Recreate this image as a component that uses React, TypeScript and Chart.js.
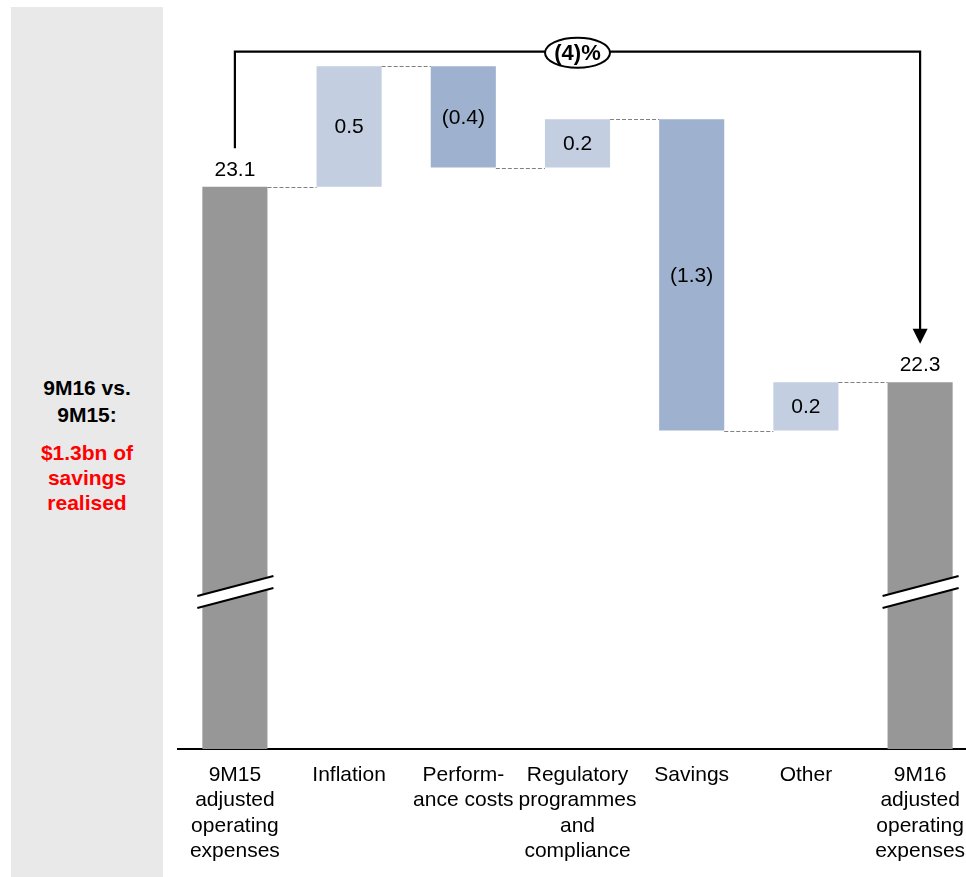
import React, { useEffect, useRef } from 'react';
import { Chart, registerables } from 'chart.js';

Chart.register(...registerables);

// ---- data ----
const CATEGORIES: string[][] = [
  ['9M15', 'adjusted', 'operating', 'expenses'],
  ['Inflation'],
  ['Perform-', 'ance costs'],
  ['Regulatory', 'programmes', 'and', 'compliance'],
  ['Savings'],
  ['Other'],
  ['9M16', 'adjusted', 'operating', 'expenses'],
];
const START_VALUE = 23.1;
const CHANGES = [0.5, -0.42, 0.2, -1.29, 0.2];
const VALUE_LABELS = ['23.1', '0.5', '(0.4)', '0.2', '(1.3)', '0.2', '22.3'];
const BAR_COLORS = ['#979797', '#c3cee1', '#9eb1ce', '#c3cee1', '#9eb1ce', '#c3cee1', '#979797'];
const Y_MIN = 20.77;
const Y_MAX = 23.75;
const BRACKET_LEVEL = 23.66;
const BRACKET_GAP = 0.16;
const BREAK_LEVEL = 21.42;
const CHANGE_PCT_LABEL = '(4)%';
const PANEL_TITLE = ['9M16 vs.', '9M15:'];
const PANEL_NOTE = ['$1.3bn of', 'savings', 'realised'];

const FONT = "'Liberation Sans', Arial, sans-serif";

// build floating ranges and running levels
const ranges: [number, number][] = [[Y_MIN, START_VALUE]];
const levels: number[] = [START_VALUE];
let running = START_VALUE;
CHANGES.forEach((c) => {
  const next = running + c;
  ranges.push([Math.min(running, next), Math.max(running, next)]);
  running = next;
  levels.push(running);
});
const END_VALUE = running;
ranges.push([Y_MIN, END_VALUE]);
levels.push(END_VALUE);

const waterfallPlugin = {
  id: 'waterfallExtras',
  afterDatasetsDraw(chart: any) {
    const ctx: CanvasRenderingContext2D = chart.ctx;
    const y = chart.scales.y;
    const bars = chart.getDatasetMeta(0).data.map((b: any) =>
      b.getProps(['x', 'y', 'base', 'width'], true)
    );
    const last = bars.length - 1;

    // connectors
    ctx.save();
    ctx.strokeStyle = '#808080';
    ctx.lineWidth = 1;
    ctx.setLineDash([4, 2]);
    for (let i = 0; i < last; i++) {
      const py = Math.round(y.getPixelForValue(levels[i])) + 0.5;
      ctx.beginPath();
      ctx.moveTo(bars[i].x + bars[i].width / 2, py);
      ctx.lineTo(bars[i + 1].x - bars[i + 1].width / 2, py);
      ctx.stroke();
    }
    ctx.restore();

    // axis breaks
    [0, last].forEach((i) => {
      const b = bars[i];
      const cy = y.getPixelForValue(BREAK_LEVEL);
      const xa = b.x - b.width / 2 - 5;
      const xb = b.x + b.width / 2 + 6;
      const slope = -20 / 76;
      const yAt = (x: number, off: number) => cy + off + (x - b.x) * slope;
      ctx.save();
      ctx.fillStyle = '#ffffff';
      ctx.beginPath();
      ctx.moveTo(xa, yAt(xa, -6));
      ctx.lineTo(xb, yAt(xb, -6));
      ctx.lineTo(xb, yAt(xb, 6));
      ctx.lineTo(xa, yAt(xa, 6));
      ctx.closePath();
      ctx.fill();
      ctx.strokeStyle = '#000000';
      ctx.lineWidth = 2;
      [-6, 6].forEach((off) => {
        ctx.beginPath();
        ctx.moveTo(xa, yAt(xa, off));
        ctx.lineTo(xb, yAt(xb, off));
        ctx.stroke();
      });
      ctx.restore();
    });

    // value labels
    ctx.save();
    ctx.font = `21px ${FONT}`;
    ctx.fillStyle = '#000000';
    ctx.textAlign = 'center';
    ctx.textBaseline = 'middle';
    bars.forEach((b: any, i: number) => {
      const top = Math.min(b.y, b.base);
      const bottom = Math.max(b.y, b.base);
      if (i === 0 || i === last) {
        ctx.fillText(VALUE_LABELS[i], b.x, top - 17);
      } else {
        ctx.fillText(VALUE_LABELS[i], b.x, (top + bottom) / 2 + 1);
      }
    });
    ctx.restore();

    // bracket with arrow
    const x0 = bars[0].x;
    const x1 = bars[last].x;
    const yb = y.getPixelForValue(BRACKET_LEVEL);
    const yl = y.getPixelForValue(START_VALUE + BRACKET_GAP);
    const yr = y.getPixelForValue(END_VALUE + BRACKET_GAP);
    ctx.save();
    ctx.strokeStyle = '#000000';
    ctx.lineWidth = 2.2;
    ctx.beginPath();
    ctx.moveTo(x0, yl);
    ctx.lineTo(x0, yb);
    ctx.lineTo(x1, yb);
    ctx.lineTo(x1, yr - 14);
    ctx.stroke();
    ctx.fillStyle = '#000000';
    ctx.beginPath();
    ctx.moveTo(x1, yr);
    ctx.lineTo(x1 - 7.5, yr - 15);
    ctx.lineTo(x1 + 7.5, yr - 15);
    ctx.closePath();
    ctx.fill();
    // oval
    const cx = (x0 + x1) / 2;
    ctx.fillStyle = '#ffffff';
    ctx.beginPath();
    ctx.ellipse(cx, yb + 1, 32.5, 15, 0, 0, Math.PI * 2);
    ctx.fill();
    ctx.lineWidth = 2;
    ctx.stroke();
    ctx.fillStyle = '#000000';
    ctx.font = `bold 22px ${FONT}`;
    ctx.textAlign = 'center';
    ctx.textBaseline = 'middle';
    ctx.fillText(CHANGE_PCT_LABEL, cx, yb + 2);
    ctx.restore();
  },
};

function WaterfallChart() {
  const ref = useRef<HTMLCanvasElement | null>(null);
  useEffect(() => {
    if (!ref.current) return;
    const chart = new Chart(ref.current, {
      type: 'bar',
      data: {
        labels: CATEGORIES as any,
        datasets: [
          {
            data: ranges as any,
            backgroundColor: BAR_COLORS,
            borderWidth: 0,
            barPercentage: 0.57,
            categoryPercentage: 1,
          },
        ],
      },
      options: {
        animation: false,
        responsive: true,
        maintainAspectRatio: false,
        layout: { padding: { top: 22, left: 0, right: 0, bottom: 0 } },
        plugins: { legend: { display: false }, tooltip: { enabled: false } },
        scales: {
          x: {
            offset: true,
            grid: { display: false, drawTicks: false },
            border: { display: true, color: '#000000', width: 2 },
            ticks: {
              autoSkip: false,
              maxRotation: 0,
              minRotation: 0,
              padding: 13,
              color: '#000000',
              font: { family: FONT, size: 21, lineHeight: 1.22 },
            },
            afterFit: (scale: any) => {
              scale.height = 120;
            },
          },
          y: {
            display: false,
            min: Y_MIN,
            max: Y_MAX,
          },
        },
      },
      plugins: [waterfallPlugin],
    });
    return () => chart.destroy();
  }, []);
  return <canvas ref={ref} />;
}

export default function App() {
  useEffect(() => {
    const prevMargin = document.body.style.margin;
    const prevBody = document.body.style.overflow;
    const prevHtml = document.documentElement.style.overflow;
    document.body.style.margin = '0';
    document.body.style.overflow = 'hidden';
    document.documentElement.style.overflow = 'hidden';
    return () => {
      document.body.style.margin = prevMargin;
      document.body.style.overflow = prevBody;
      document.documentElement.style.overflow = prevHtml;
    };
  }, []);
  const textStyle: React.CSSProperties = {
    position: 'absolute',
    left: 0,
    width: '100%',
    textAlign: 'center',
    fontFamily: FONT,
    fontWeight: 'bold',
    fontSize: 21,
  };
  return (
    <div style={{ position: 'relative', width: 966, height: 877, overflow: 'hidden', background: '#ffffff' }}>
      <div style={{ position: 'absolute', left: 11, top: 7, width: 152, height: 880, background: '#e9e9e9' }}>
        <div style={{ ...textStyle, top: 366.75, lineHeight: '27.5px', color: '#000000' }}>
          {PANEL_TITLE.map((t) => (
            <div key={t}>{t}</div>
          ))}
        </div>
        <div style={{ ...textStyle, top: 433, lineHeight: '25px', color: '#ff0000' }}>
          {PANEL_NOTE.map((t) => (
            <div key={t}>{t}</div>
          ))}
        </div>
      </div>
      <div style={{ position: 'absolute', left: 177, top: 8, width: 801, height: 861 }}>
        <WaterfallChart />
      </div>
    </div>
  );
}
